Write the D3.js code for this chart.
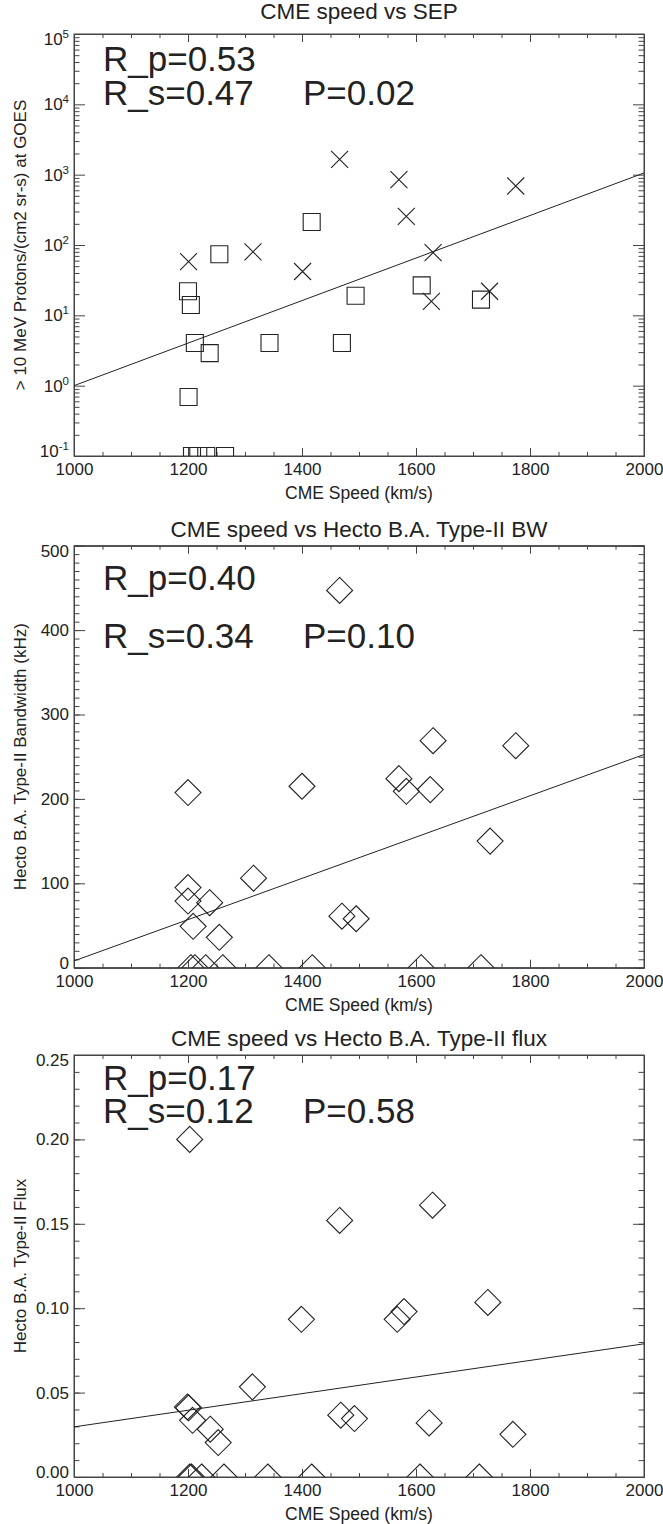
<!DOCTYPE html>
<html>
<head>
<meta charset="utf-8">
<script src="https://cdn.jsdelivr.net/npm/d3@7"></script>
<style>
body { margin: 0; background: #fff; }
text { font-family: "Liberation Sans", Arial, Helvetica, sans-serif; fill: #222; }
</style>
</head>
<body>
<div id="chart"></div>
<script>
// x axis shared by the three panels
var speedDomain = [1000, 2000];
var speedTicks = [1000, 1200, 1400, 1600, 1800, 2000];

// panel 1: CME speed vs SEP (log y)
var sepCrossSpeed = [1466, 1570, 1583, 1775, 1201, 1314, 1401, 1630, 1627, 1729];
var sepCrossFlux  = [1650, 850, 256, 690, 58, 80, 42, 78, 15.8, 22];
var sepSquareSpeed = [1417, 1255, 1200, 1205, 1212, 1238, 1343, 1470, 1494, 1610, 1714, 1201, 1207, 1218, 1232, 1265];
var sepSquareFlux  = [212, 74, 22, 14, 4.05, 2.9, 4.05, 4.05, 19, 26.7, 16.7, 0.69, 0.1, 0.1, 0.1, 0.1];
var sepFit = [-3.024, 0.003024];   // log10(y) = a + b*x
var sepTicks = [0.1, 1, 10, 100, 1000, 10000, 100000];
var sepStats = ["R_p=0.53", "R_s=0.47", "P=0.02"];

// panel 2: CME speed vs bandwidth
var bwSpeed = [1466, 1630, 1775, 1570, 1583, 1625, 1200, 1400, 1730, 1315, 1200, 1200, 1238, 1209, 1255, 1470, 1495,
               1205, 1212, 1231, 1261, 1342, 1418, 1609, 1714];
var bwValue = [447, 269, 263, 224, 209, 211, 207.5, 215, 150, 106, 95, 79, 77, 49, 36, 61, 58,
               0, 0, 0, 0, 0, 0, 0, 0];
var bwFit = [-236.6, 0.2446];      // y = a + b*x
var bwTicks = [0, 100, 200, 300, 400, 500];
var bwStats = ["R_p=0.40", "R_s=0.34", "P=0.10"];

// panel 3: CME speed vs flux
var fluxSpeed = [1203, 1466, 1629, 1399, 1567, 1579, 1726, 1313, 1199, 1201, 1208, 1239, 1253, 1468, 1492, 1623, 1770,
                 1203, 1206, 1224, 1263, 1340, 1417, 1607, 1711];
var fluxValue = [0.200, 0.152, 0.161, 0.0934, 0.0934, 0.098, 0.1034, 0.0534, 0.0415, 0.041, 0.0336, 0.0283, 0.0204, 0.0366, 0.0346, 0.032, 0.0253,
                 0, 0, 0, 0, 0, 0, 0, 0];
var fluxFit = [-0.0195, 0.0000492];
var fluxTicks = [0, 0.05, 0.10, 0.15, 0.20, 0.25];
var fluxStats = ["R_p=0.17", "R_s=0.12", "P=0.58"];

var width = 663, height = 1524;
var margin = {left: 74, right: 19};
var plotW = width - margin.left - margin.right;
var plotH = 422;

var svg = d3.select("#chart").append("svg")
    .attr("width", width)
    .attr("height", height);

var x = d3.scaleLinear().domain(speedDomain).range([0, plotW]);

function drawPanel(p)
{
    var g = svg.append("g").attr("transform", "translate(" + margin.left + "," + p.top + ")");
    var y = p.y;

    g.append("clipPath").attr("id", "clip" + p.id)
        .append("rect").attr("width", plotW).attr("height", plotH);

    // minor ticks first, then major with labels
    var xMinor = d3.range(1000, 2001, 50);
    g.append("g").attr("transform", "translate(0," + plotH + ")")
        .call(d3.axisBottom(x).tickValues(xMinor).tickSize(-4).tickSizeOuter(0).tickFormat(""));
    g.append("g")
        .call(d3.axisTop(x).tickValues(xMinor).tickSize(-4).tickSizeOuter(0).tickFormat(""));
    g.append("g").attr("transform", "translate(0," + plotH + ")")
        .call(d3.axisBottom(x).tickValues(speedTicks).tickSize(-8).tickSizeOuter(0).tickPadding(7)
            .tickFormat(d3.format("d")));
    g.append("g")
        .call(d3.axisTop(x).tickValues(speedTicks).tickSize(-8).tickSizeOuter(0).tickFormat(""));

    g.append("g")
        .call(d3.axisLeft(y).tickValues(p.minor).tickSize(-5.5).tickSizeOuter(0).tickFormat(""));
    g.append("g").attr("transform", "translate(" + plotW + ",0)")
        .call(d3.axisRight(y).tickValues(p.minor).tickSize(-5.5).tickSizeOuter(0).tickFormat(""));
    var yl = g.append("g")
        .call(d3.axisLeft(y).tickValues(p.ticks).tickSize(-11).tickSizeOuter(0).tickPadding(5)
            .tickFormat(p.format));
    g.append("g").attr("transform", "translate(" + plotW + ",0)")
        .call(d3.axisRight(y).tickValues(p.ticks).tickSize(-11).tickSizeOuter(0).tickFormat(""));

    g.selectAll(".domain").attr("stroke", "#444");
    g.selectAll(".tick line").attr("stroke", "#444");
    g.selectAll(".tick text").attr("font-size", 17).attr("fill", "#222")
        .attr("font-family", "Liberation Sans, Arial, sans-serif");

    // end labels sit a little inside the frame
    var yt = yl.selectAll(".tick text");
    var n = yt.size();
    yt.each(function(d, i) {
        if (i == 0) d3.select(this).attr("transform", "translate(0,-5)");
        if (i == n - 1) d3.select(this).attr("transform", "translate(0,5)");
    });

    if (p.log) {
        yt.each(function(d) {
            var t = d3.select(this);
            var e = Math.round(Math.log10(d));
            t.text(null);
            t.append("tspan").text("10");
            t.append("tspan").attr("font-size", 11.5).attr("dy", "-0.6em").text(e);
        });
    }

    // frame
    g.append("rect").attr("width", plotW).attr("height", plotH)
        .attr("fill", "none").attr("stroke", "#444").attr("stroke-width", 1);

    var marks = g.append("g").attr("clip-path", "url(#clip" + p.id + ")");

    // fit line
    var line = d3.line()
        .x(function(d) { return x(d); })
        .y(function(d) { return y(p.fit(d)); });
    marks.append("path").datum(speedDomain)
        .attr("d", line).attr("fill", "none").attr("stroke", "#222").attr("stroke-width", 1);

    p.series.forEach(function(s) {
        var pts = s.xs.map(function(v, i) { return [v, s.ys[i]]; });
        var sel = marks.append("g").selectAll("path").data(pts).enter().append("path")
            .attr("transform", function(d) { return "translate(" + x(d[0]) + "," + y(d[1]) + ")"; })
            .attr("fill", "none").attr("stroke", "#222").attr("stroke-width", 1.1);
        if (s.symbol == "square") sel.attr("d", "M-8.5,-8.5H8.5V8.5H-8.5Z");
        if (s.symbol == "cross") sel.attr("d", "M-8.5,-8.5L8.5,8.5M-8.5,8.5L8.5,-8.5");
        if (s.symbol == "diamond") sel.attr("d", "M0,-13L13,0L0,13L-13,0Z");
    });

    // texts
    g.append("text").attr("x", plotW / 2).attr("y", p.titleY)
        .attr("text-anchor", "middle").attr("font-size", 22.5).text(p.title);
    g.append("text").attr("x", plotW / 2).attr("y", plotH + 43)
        .attr("text-anchor", "middle").attr("font-size", 17.5).text("CME Speed (km/s)");
    g.append("text")
        .attr("transform", "translate(" + (26 - margin.left) + "," + (plotH / 2) + ") rotate(-90)")
        .attr("text-anchor", "middle").attr("font-size", 17).text(p.ylabel);

    g.append("text").attr("x", 29).attr("y", p.statY[0]).attr("font-size", 35).text(p.stats[0]);
    g.append("text").attr("x", 29).attr("y", p.statY[1]).attr("font-size", 35).text(p.stats[1]);
    g.append("text").attr("x", 229).attr("y", p.statY[1]).attr("font-size", 35).text(p.stats[2]);
}

// log minor ticks 2..9 per decade
var logMinor = [];
sepTicks.slice(0, -1).forEach(function(t) {
    for (var k = 2; k <= 9; k++) logMinor.push(t * k);
});

drawPanel({
    id: 1, top: 34, log: true,
    y: d3.scaleLog().domain([0.1, 100000]).range([plotH, 0]),
    ticks: sepTicks, minor: logMinor, format: function(d) { return d; },
    fit: function(v) { return Math.pow(10, sepFit[0] + sepFit[1] * v); },
    series: [
        {xs: sepCrossSpeed, ys: sepCrossFlux, symbol: "cross"},
        {xs: sepSquareSpeed, ys: sepSquareFlux, symbol: "square"}
    ],
    title: "CME speed vs SEP", titleY: -15,
    ylabel: "> 10 MeV Protons/(cm2 sr-s) at GOES",
    stats: sepStats, statY: [37, 71]
});

drawPanel({
    id: 2, top: 545.7, log: false,
    y: d3.scaleLinear().domain([0, 500]).range([plotH, 0]),
    ticks: bwTicks, minor: d3.range(0, 501, 10), format: d3.format("d"),
    fit: function(v) { return bwFit[0] + bwFit[1] * v; },
    series: [{xs: bwSpeed, ys: bwValue, symbol: "diamond"}],
    title: "CME speed vs Hecto B.A. Type-II BW", titleY: -9,
    ylabel: "Hecto B.A. Type-II Bandwidth (kHz)",
    stats: bwStats, statY: [44, 102]
});

drawPanel({
    id: 3, top: 1055, log: false,
    y: d3.scaleLinear().domain([0, 0.25]).range([plotH, 0]),
    ticks: fluxTicks, minor: d3.range(0, 0.2501, 0.01), format: d3.format(".2f"),
    fit: function(v) { return fluxFit[0] + fluxFit[1] * v; },
    series: [{xs: fluxSpeed, ys: fluxValue, symbol: "diamond"}],
    title: "CME speed vs Hecto B.A. Type-II flux", titleY: -9,
    ylabel: "Hecto B.A. Type-II Flux",
    stats: fluxStats, statY: [35, 68]
});
</script>
</body>
</html>
